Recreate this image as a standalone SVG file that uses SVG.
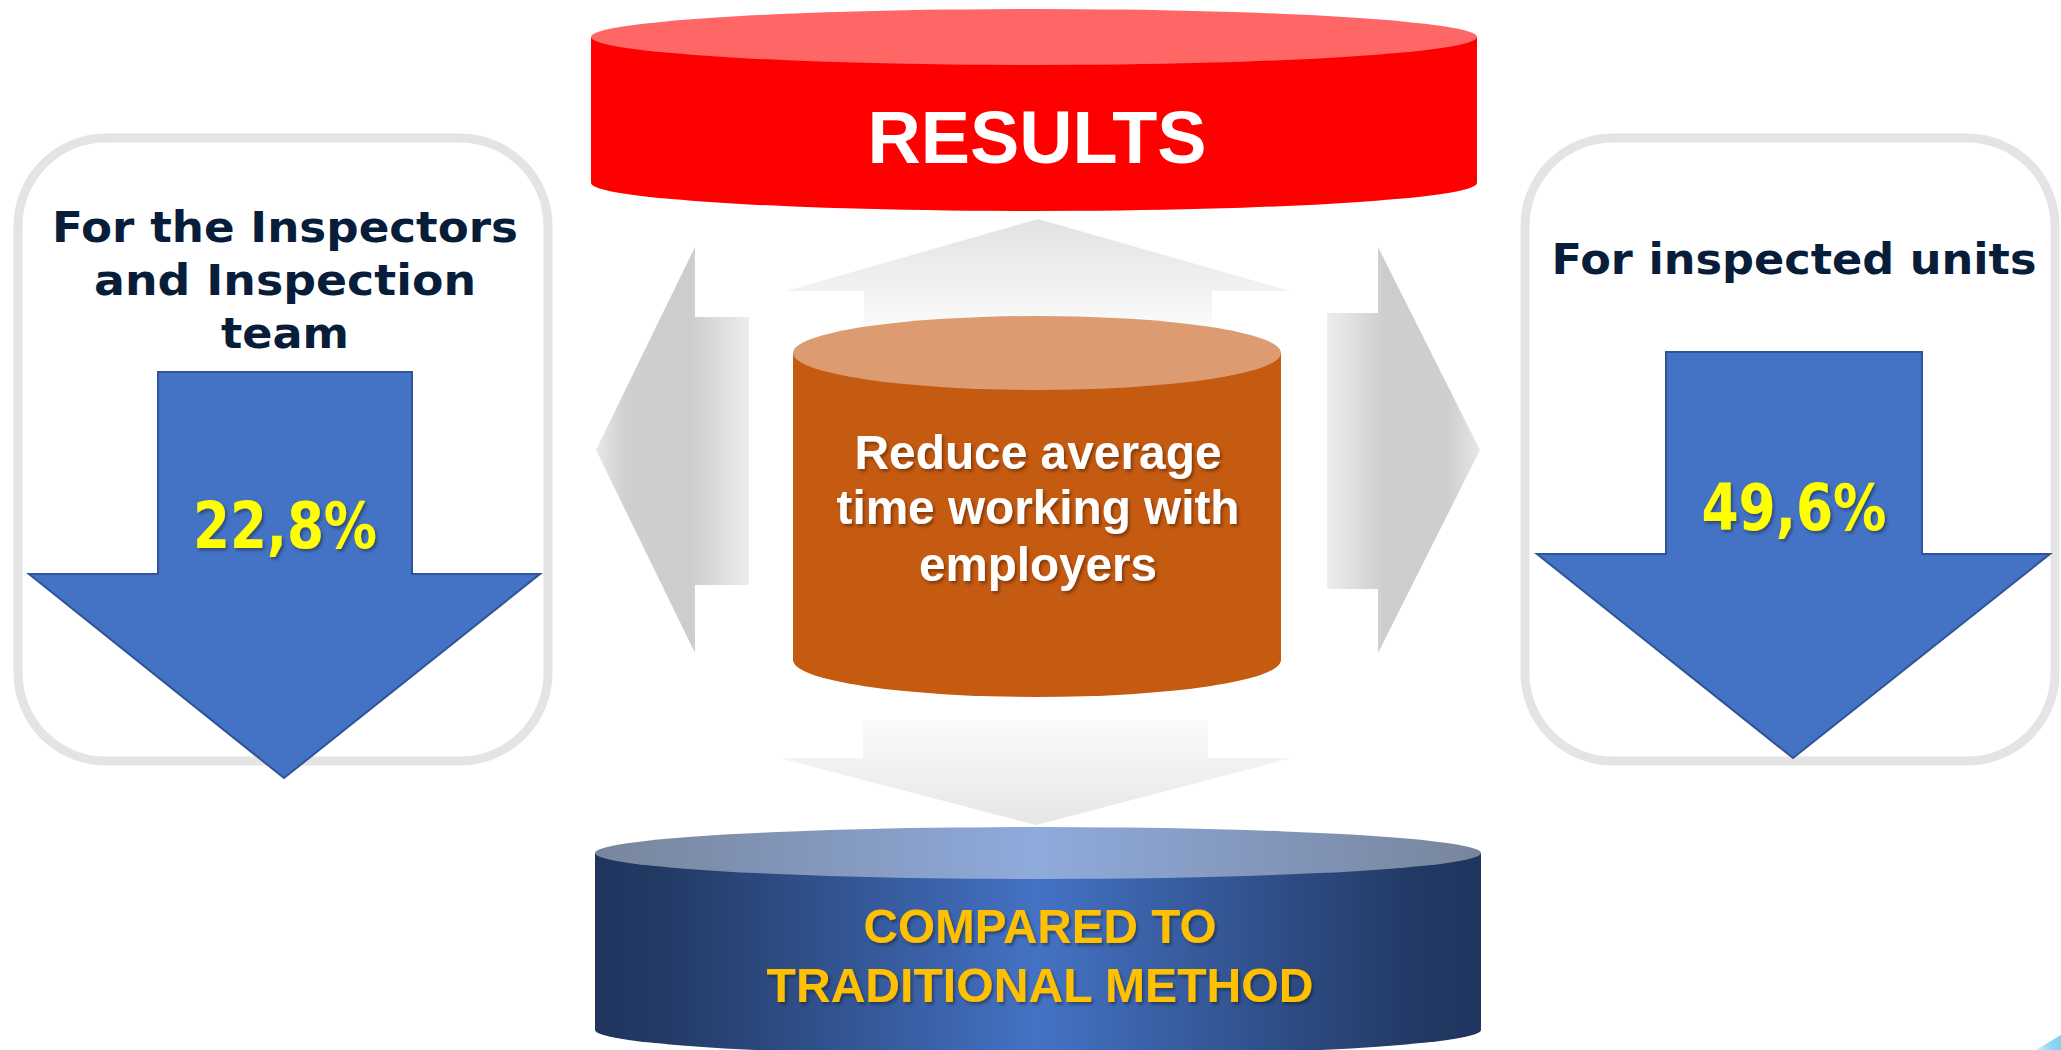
<svg xmlns="http://www.w3.org/2000/svg" width="2061" height="1050" viewBox="0 0 2061 1050">
  <defs>
    <linearGradient id="gUp" x1="0" y1="219" x2="0" y2="330" gradientUnits="userSpaceOnUse">
      <stop offset="0" stop-color="#e2e2e2"/>
      <stop offset="1" stop-color="#fbfbfb"/>
    </linearGradient>
    <linearGradient id="gDown" x1="0" y1="720" x2="0" y2="825" gradientUnits="userSpaceOnUse">
      <stop offset="0" stop-color="#fbfbfb"/>
      <stop offset="1" stop-color="#e6e6e6"/>
    </linearGradient>
    <linearGradient id="gLeft" x1="596" y1="0" x2="749" y2="0" gradientUnits="userSpaceOnUse">
      <stop offset="0" stop-color="#e8e8e8"/>
      <stop offset="0.2" stop-color="#cfcfcf"/>
      <stop offset="0.62" stop-color="#cdcdcd"/>
      <stop offset="1" stop-color="#ededed"/>
    </linearGradient>
    <linearGradient id="gRight" x1="1480" y1="0" x2="1327" y2="0" gradientUnits="userSpaceOnUse">
      <stop offset="0" stop-color="#e8e8e8"/>
      <stop offset="0.2" stop-color="#cfcfcf"/>
      <stop offset="0.62" stop-color="#cdcdcd"/>
      <stop offset="1" stop-color="#ededed"/>
    </linearGradient>
    <linearGradient id="gBlueBody" x1="595" y1="0" x2="1481" y2="0" gradientUnits="userSpaceOnUse">
      <stop offset="0" stop-color="#1f355e"/>
      <stop offset="0.08" stop-color="#233a66"/>
      <stop offset="0.5" stop-color="#4472c4"/>
      <stop offset="0.92" stop-color="#233a66"/>
      <stop offset="1" stop-color="#1f355e"/>
    </linearGradient>
    <linearGradient id="gBlueTop" x1="595" y1="0" x2="1481" y2="0" gradientUnits="userSpaceOnUse">
      <stop offset="0" stop-color="#78859c"/>
      <stop offset="0.5" stop-color="#8faadc"/>
      <stop offset="1" stop-color="#78859c"/>
    </linearGradient>
    <linearGradient id="gCyan" x1="2036" y1="1050" x2="2061" y2="1035" gradientUnits="userSpaceOnUse">
      <stop offset="0" stop-color="#d8f0fb"/>
      <stop offset="0.5" stop-color="#8fd6f3"/>
      <stop offset="1" stop-color="#7fcfee"/>
    </linearGradient>
    <filter id="shadow" x="-10%" y="-20%" width="120%" height="150%">
      <feDropShadow dx="2" dy="2.5" stdDeviation="1.5" flood-color="#000" flood-opacity="0.35"/>
    </filter>
  </defs>
  <style>
    .title { font-family: "DejaVu Sans", Verdana, sans-serif; font-weight: bold; font-size: 43px; fill: #081d3a; text-anchor: middle; }
    .pct { font-family: "DejaVu Sans", Verdana, sans-serif; font-weight: bold; font-size: 64px; fill: #ffff00; text-anchor: middle; }
    .arial { font-family: "Liberation Sans", Arial, sans-serif; font-weight: bold; text-anchor: middle; }
    .box { fill: #ffffff; stroke: #e4e4e4; stroke-width: 9; }
    .bluearrow { fill: #4472c4; stroke: #2f5597; stroke-width: 2; stroke-linejoin: miter; }
  </style>
  <rect width="2061" height="1050" fill="#ffffff"/>

  <g id="connectors">
    <polygon id="arrow-up" points="864,360 864,291 786,291 1038,219 1290,291 1212,291 1212,360" fill="url(#gUp)"/>
    <polygon id="arrow-left" points="749,317 695,317 695,247 596,450 695,653 695,585 749,585" fill="url(#gLeft)"/>
    <polygon id="arrow-right" points="1327,313 1378,313 1378,247 1480,450 1378,653 1378,589 1327,589" fill="url(#gRight)"/>
    <polygon id="arrow-down" points="863,720 1208,720 1208,758 1292,758 1036,825 779,758 863,758" fill="url(#gDown)"/>
  </g>

  <g id="results">
    <path d="M591,37 L591,183 A443,28 0 0 0 1477,183 L1477,37 Z" fill="#ff0000"/>
    <ellipse cx="1034" cy="37" rx="443" ry="28" fill="#ff6666"/>
    <text class="arial" x="1037" y="163" font-size="75" fill="#ffffff" textLength="339" lengthAdjust="spacingAndGlyphs">RESULTS</text>
  </g>

  <g id="reduce">
    <path d="M793,353 L793,660 A244,37 0 0 0 1281,660 L1281,353 Z" fill="#c55a11"/>
    <ellipse cx="1037" cy="353" rx="244" ry="37" fill="#dc9b70"/>
    <g filter="url(#shadow)" fill="#ffffff">
      <text class="arial" x="1038" y="469" font-size="48" textLength="367" lengthAdjust="spacingAndGlyphs">Reduce average</text>
      <text class="arial" x="1038" y="524" font-size="48" textLength="403" lengthAdjust="spacingAndGlyphs">time working with</text>
      <text class="arial" x="1038" y="581" font-size="48" textLength="238" lengthAdjust="spacingAndGlyphs">employers</text>
    </g>
  </g>

  <g id="compared">
    <path d="M595,853 L595,1030 A443,26 0 0 0 1481,1030 L1481,853 Z" fill="url(#gBlueBody)"/>
    <ellipse cx="1038" cy="853" rx="443" ry="26" fill="url(#gBlueTop)"/>
    <g filter="url(#shadow)" fill="#ffc000">
      <text class="arial" x="1040" y="943" font-size="49" textLength="353" lengthAdjust="spacingAndGlyphs">COMPARED TO</text>
      <text class="arial" x="1040" y="1002" font-size="49" textLength="547" lengthAdjust="spacingAndGlyphs">TRADITIONAL METHOD</text>
    </g>
  </g>

  <g id="inspectors">
    <rect class="box" x="18" y="138" width="530" height="623" rx="88" ry="88"/>
    <text class="title" x="285" y="242" textLength="466" lengthAdjust="spacingAndGlyphs">For the Inspectors</text>
    <text class="title" x="285" y="295" textLength="382" lengthAdjust="spacingAndGlyphs">and Inspection</text>
    <text class="title" x="285" y="348" textLength="128" lengthAdjust="spacingAndGlyphs">team</text>
    <polygon class="bluearrow" points="158,372 412,372 412,574 540,574 284,778 29,574 158,574"/>
    <text class="pct" x="285" y="548" filter="url(#shadow)" textLength="184" lengthAdjust="spacingAndGlyphs">22,8%</text>
  </g>

  <g id="inspected-units">
    <rect class="box" x="1525" y="138" width="530" height="623" rx="88" ry="88"/>
    <text class="title" x="1794" y="274" textLength="485" lengthAdjust="spacingAndGlyphs">For inspected units</text>
    <polygon class="bluearrow" points="1666,352 1922,352 1922,554 2050,554 1793,758 1537,554 1666,554"/>
    <text class="pct" x="1794" y="530" filter="url(#shadow)" textLength="185" lengthAdjust="spacingAndGlyphs">49,6%</text>
  </g>

  <polygon id="corner-decoration" points="2036,1050 2061,1035 2061,1050" fill="url(#gCyan)"/>
</svg>
